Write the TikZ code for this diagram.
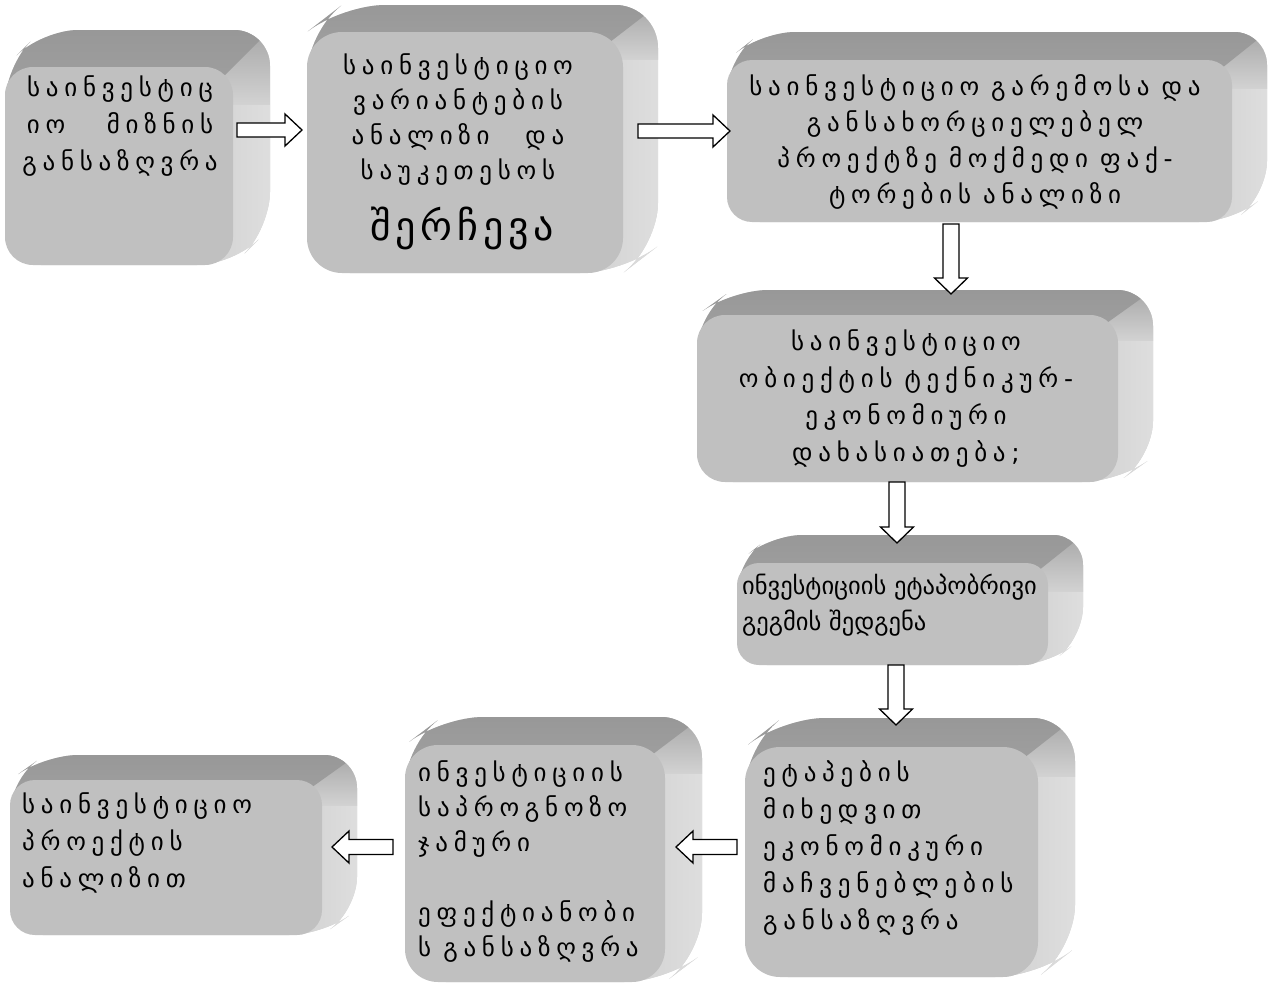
\documentclass[tikz,border=0pt]{standalone}
\usepackage{fontspec}
\newfontfamily\geo[LetterSpace=23]{DejaVu Sans}
\newfontfamily\geobig[LetterSpace=12]{DejaVu Sans}
\newfontfamily\geoplain{DejaVu Sans}
\usetikzlibrary{calc}
\definecolor{frontgray}{HTML}{C0C0C0}
\definecolor{topA}{HTML}{939393}
\definecolor{topB}{HTML}{A6A6A6}
\definecolor{sideA}{HTML}{D2D2D2}
\definecolor{sideB}{HTML}{DEDEDE}
\tikzset{
  frontface/.style={fill=frontgray, draw=none, inner sep=0pt, outer sep=0pt},
  gtxt/.style={font=\geo\fontsize{25}{37}\selectfont, inner sep=0pt, text=black},
  blk/.style={draw=black, line width=1.3pt, fill=white, line join=miter},
}
% name, L, T, R, B, dx, dy, r
\newcommand\bevbox[8]{%
  \begin{scope}
    \clip[rounded corners=#8pt+8pt] (#2,#5) -- (#2,#3) -- (#2+#6,#3-#7) -- (#4+#6,#3-#7) -- (#4+#6,#5-#7) -- (#4,#5) -- cycle;
    \fill[sideA] (#2-5,#3-#7-5) rectangle (#4+#6+5,#5+5);
    \shade[left color=sideA, right color=sideB] (#4-#8,#3-#7-2) rectangle (#4+#6+1,#5+2);
    \shade[top color=topB, bottom color=sideA] (#4-#8,#3-#7-2) rectangle (#4+#6+1,#3+#7);
    \shade[top color=topA, bottom color=topB] (#4+2*#6,#3-2*#7) -- (#4-2*#6,#3+2*#7) -- (#2-5,#3+2*#7) -- (#2-5,#3-#7-5) -- (#4+2*#6,#3-#7-5) -- cycle;
  \end{scope}
  \node[frontface, rounded corners=#8pt, minimum width={(#4-#2)*1pt}, minimum height={(#5-#3)*1pt}] (#1) at ({(#2+#4)/2},{(#3+#5)/2}) {};
}
\newcommand\rarr[2]{\draw[blk] let \p1=(#1),\p2=(#2) in (\x1,\y1+7pt) -- (\x2-17pt,\y1+7pt) -- (\x2-17pt,\y1+16pt) -- (\x2,\y1) -- (\x2-17pt,\y1-16pt) -- (\x2-17pt,\y1-7pt) -- (\x1,\y1-7pt) -- cycle;}
\newcommand\larr[2]{\draw[blk] let \p1=(#1),\p2=(#2) in (\x1,\y1+7.5pt) -- (\x2+17pt,\y1+7.5pt) -- (\x2+17pt,\y1+16pt) -- (\x2,\y1) -- (\x2+17pt,\y1-16pt) -- (\x2+17pt,\y1-7.5pt) -- (\x1,\y1-7.5pt) -- cycle;}
\newcommand\darr[2]{\draw[blk] let \p1=(#1),\p2=(#2) in (\x1-8pt,\y1) -- (\x1-8pt,\y2+16pt) -- (\x1-16.5pt,\y2+16pt) -- (\x1,\y2) -- (\x1+16.5pt,\y2+16pt) -- (\x1+8pt,\y2+16pt) -- (\x1+8pt,\y1) -- cycle;}
\newcommand\gap{\hspace{12pt}}
\begin{document}
\begin{tikzpicture}[x=1pt,y=-1pt]
\useasboundingbox (0,0) rectangle (1272,985);
\fill[white] (0,0) rectangle (1272,985);

\bevbox{b1}{5}{67}{233}{265}{37}{37}{28}
\bevbox{b2}{307}{32}{623}{273}{35}{27}{35}
\bevbox{b3}{727}{60}{1232}{222}{35}{28}{25}
\bevbox{b4}{697}{315}{1118}{482}{35}{25}{28}
\bevbox{b5}{737}{563}{1048}{665}{35}{28}{22}
\bevbox{b6}{745}{747}{1038}{977}{37}{29}{35}
\bevbox{b7}{405}{745}{665}{982}{37}{28}{33}
\bevbox{b8}{10}{780}{322}{935}{35}{25}{25}

\node[gtxt, align=center] (t1) at (120,126) {საინვესტიც\\იო\hspace{28pt} მიზნის\\განსაზღვრა};
\node[gtxt, align=center, font=\geo\fontsize{25}{35}\selectfont] (t2) at (458,120) {საინვესტიციო\\ვარიანტების\\ანალიზი\hspace{22pt} და\\საუკეთესოს};
\node[gtxt, font=\geobig\fontsize{40}{44}\selectfont] (t2b) at (462,228) {შერჩევა};
\node[gtxt, align=center, font=\geo\fontsize{25}{36}\selectfont] (t3) at (975,142) {საინვესტიციო\gap გარემოსა\gap და\\განსახორციელებელ\\პროექტზე\gap მოქმედი\gap ფაქ-\\ტორების\gap ანალიზი};
\node[gtxt, align=center] (t4) at (906,399) {საინვესტიციო\\ობიექტის\gap ტექნიკურ-\\ეკონომიური\\დახასიათება;};
\node[gtxt, align=left, anchor=west, font=\geoplain\fontsize{24.5}{36}\selectfont] (t5) at (742,605) {ინვესტიციის ეტაპობრივი\\გეგმის შედგენა};
\node[gtxt, align=left, anchor=west] (t6) at (763,848) {ეტაპების\\მიხედვით\\ეკონომიკური\\მაჩვენებლების\\განსაზღვრა};
\node[gtxt, align=left, anchor=west, font=\geo\fontsize{25}{35}\selectfont] (t7) at (418,862) {ინვესტიციის\\საპროგნოზო\\ჯამური\\[35pt]ეფექტიანობი\\ს\gap განსაზღვრა};
\node[gtxt, align=left, anchor=west] (t8) at (22,843) {საინვესტიციო\\პროექტის\\ანალიზით};

\coordinate (a1s) at (237,130); \coordinate (a1e) at (302,130);
\coordinate (a2s) at (638,131); \coordinate (a2e) at (730,131);
\coordinate (a3s) at (951,224); \coordinate (a3e) at (951,294);
\coordinate (a4s) at (897,482); \coordinate (a4e) at (897,543);
\coordinate (a5s) at (896,665); \coordinate (a5e) at (896,725);
\coordinate (a6s) at (737,847); \coordinate (a6e) at (676,847);
\coordinate (a7s) at (393,847); \coordinate (a7e) at (332,847);
\rarr{a1s}{a1e}
\rarr{a2s}{a2e}
\darr{a3s}{a3e}
\darr{a4s}{a4e}
\darr{a5s}{a5e}
\larr{a6s}{a6e}
\larr{a7s}{a7e}
\end{tikzpicture}
\end{document}
